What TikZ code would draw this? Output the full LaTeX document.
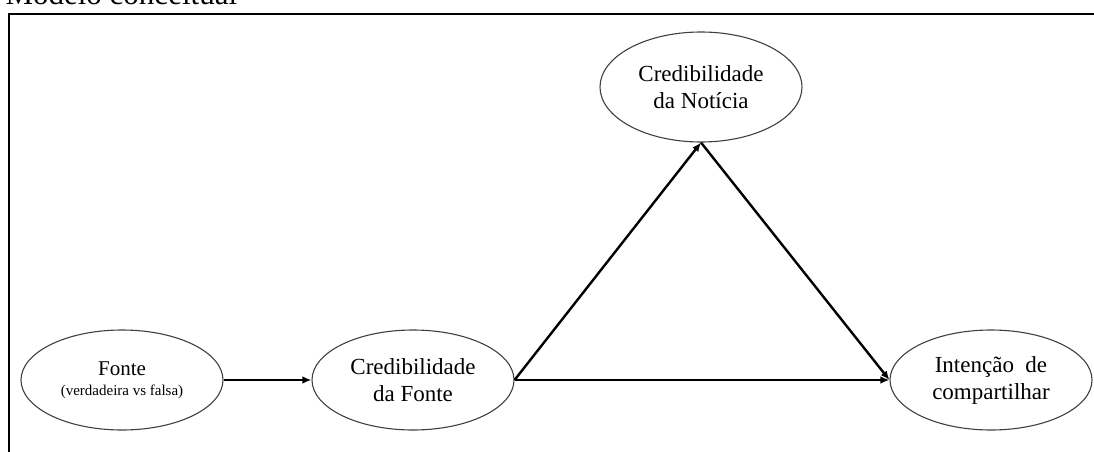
\documentclass[tikz,border=0pt]{standalone}
\usepackage{fontspec}
\setmainfont{Liberation Serif}
\usetikzlibrary{arrows.meta,shapes.geometric}
\definecolor{ContornoCinza}{HTML}{404040}

\begin{document}
\begin{tikzpicture}[
  x=1pt,y=-1pt,
  elipse/.style={ellipse,draw=ContornoCinza,line width=1.1pt,inner sep=0pt,
    minimum width=202pt,minimum height=100pt,align=center,
    font=\fontsize{23}{27}\selectfont},
  seta/.style={-{Latex[length=9pt,width=7.5pt]},line width=2.4pt,draw=black}
]
\useasboundingbox (0,0) rectangle (1094,452);
\node[anchor=base west,font=\fontsize{31}{36}\selectfont] (titulo) at (2,5) {Modelo conceitual};
\draw[line width=2pt] (9,14) rectangle (1110,470);
\node[elipse,font=\fontsize{21}{20}\selectfont] (fonte) at (122,380) {Fonte\\{\fontsize{15}{18}\selectfont(verdadeira vs falsa)}};
\node[elipse] (credfonte) at (413,380) {Credibilidade\\da Fonte};
\node[elipse,minimum height=110pt] (noticia) at (701,87) {Credibilidade\\da Notícia};
\node[elipse] (intencao) at (991,380) {Intenção\ \ de\\compartilhar};
\foreach \a/\b in {fonte.east/credfonte.west,credfonte.east/noticia.south,credfonte.east/intencao.west,noticia.south/intencao.west}
  \draw[seta] (\a) -- (\b);
\end{tikzpicture}
\end{document}
